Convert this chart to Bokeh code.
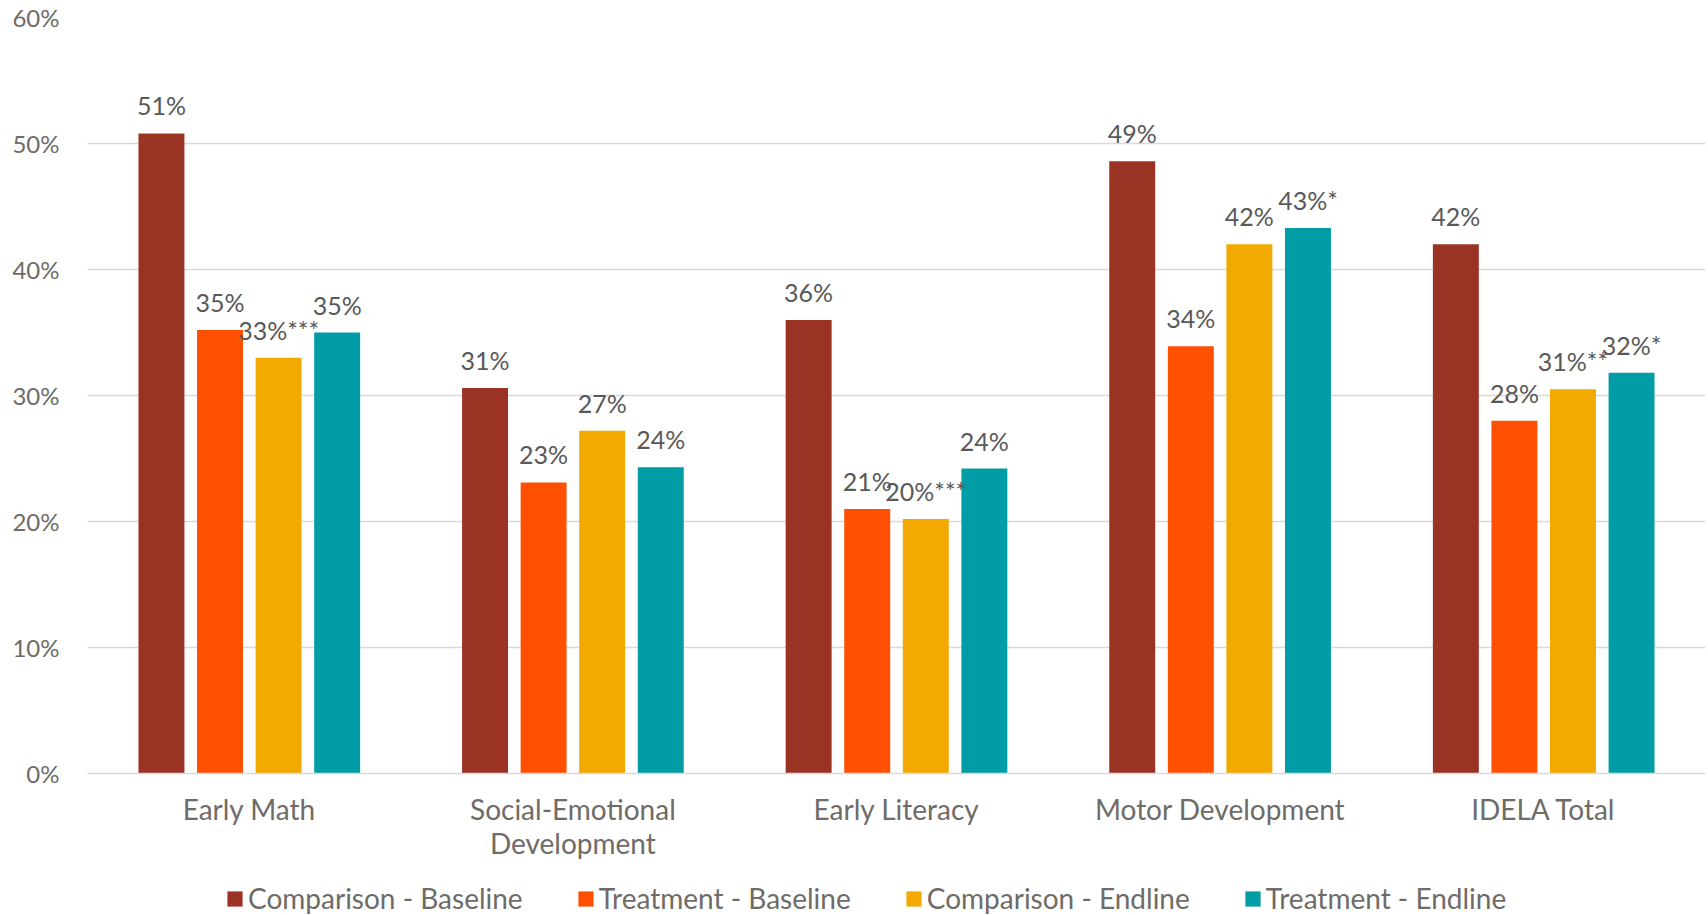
from bokeh.plotting import figure
from bokeh.models import (ColumnDataSource, Range1d, FixedTicker, Legend, LegendItem,
                          LabelSet, NumeralTickFormatter)
from bokeh.layouts import column
from bokeh.core.properties import value
from bokeh.transform import dodge
from bokeh.embed import file_html
from bokeh.resources import INLINE

categories = ["Early Math", "Social-Emotional\nDevelopment", "Early Literacy",
              "Motor Development", "IDELA Total"]
series_names = ["Comparison - Baseline", "Treatment - Baseline",
                "Comparison - Endline", "Treatment - Endline"]
comparison_baseline = [0.508, 0.306, 0.360, 0.486, 0.420]
treatment_baseline = [0.352, 0.231, 0.210, 0.339, 0.280]
comparison_endline = [0.330, 0.272, 0.202, 0.420, 0.305]
treatment_endline = [0.350, 0.243, 0.242, 0.433, 0.318]
labels_cb = ["51%", "31%", "36%", "49%", "42%"]
labels_tb = ["35%", "23%", "21%", "34%", "28%"]
labels_ce = ["33%***", "27%", "20%***", "42%", "31%**"]
labels_te = ["35%", "24%", "24%", "43%*", "32%*"]
y_ticks = [0, 0.1, 0.2, 0.3, 0.4, 0.5, 0.6]

colors = ["#9A3324", "#FF4F00", "#F2AA00", "#009DA6"]
FONT = "Lato"
GRAY = "#6E6B68"

W = 1708
H_MAIN, H_LEG = 870, 45
p = figure(width=W, height=H_MAIN, output_backend="svg", toolbar_location=None,
           x_range=Range1d(-0.5, 4.5), y_range=Range1d(0, 0.6),
           min_border_left=87, min_border_right=3, min_border_top=17,
           min_border_bottom=H_MAIN - 773)
p.outline_line_color = None
p.background_fill_color = "white"
p.border_fill_color = "white"

idx = list(range(len(categories)))
src = ColumnDataSource(dict(x=idx, cb=comparison_baseline, tb=treatment_baseline,
                            ce=comparison_endline, te=treatment_endline,
                            lcb=labels_cb, ltb=labels_tb, lce=labels_ce, lte=labels_te))

step = 0.181
bw = 0.142
offsets = [-1.5 * step, -0.5 * step, 0.5 * step, 1.5 * step]
fields = ["cb", "tb", "ce", "te"]
lfields = ["lcb", "ltb", "lce", "lte"]
for f, lf, off, c in zip(fields, lfields, offsets, colors):
    p.vbar(x=dodge("x", off, range=p.x_range), top=f, width=bw, source=src,
           fill_color=c, line_color=None)
    ls = LabelSet(x=dodge("x", off, range=p.x_range), y=f, text=lf, source=src,
                  text_align="center", text_baseline="middle", y_offset=28,
                  text_font=value(FONT), text_font_size=value("25px"),
                  text_color="#595959")
    p.add_layout(ls)

# axes
p.xaxis.ticker = FixedTicker(ticks=idx)
p.xaxis.major_label_overrides = {i: c for i, c in enumerate(categories)}
p.xaxis.axis_line_color = "#D9D9D9"
p.xaxis.axis_line_width = 1.5
p.xaxis.major_tick_line_color = None
p.xaxis.minor_tick_line_color = None
p.xaxis.major_label_text_font = FONT
p.xaxis.major_label_text_font_size = "28px"
p.xaxis.major_label_text_color = GRAY
p.xaxis.major_label_text_line_height = 1.0
p.xaxis.major_label_standoff = 12

p.yaxis.ticker = FixedTicker(ticks=y_ticks)
p.yaxis.formatter = NumeralTickFormatter(format="0%")
p.yaxis.axis_line_color = None
p.yaxis.major_tick_line_color = None
p.yaxis.minor_tick_line_color = None
p.yaxis.major_label_text_font = FONT
p.yaxis.major_label_text_font_size = "24px"
p.yaxis.major_label_text_color = GRAY
p.yaxis.major_label_standoff = 22

p.xgrid.grid_line_color = None
p.ygrid.grid_line_color = "#D9D9D9"
p.ygrid.grid_line_width = 1.5
p.ygrid.ticker = FixedTicker(ticks=y_ticks)

# legend strip (swatches come from off-screen proxy bars)
pl = figure(width=W, height=H_LEG, output_backend="svg", toolbar_location=None,
            x_range=Range1d(0, 1), y_range=Range1d(0, 1),
            x_axis_type=None, y_axis_type=None,
            min_border=0)
pl.outline_line_color = None
pl.grid.grid_line_color = None
leg_renderers = [pl.vbar(x=[-5], top=[-5], width=0.1, fill_color=c, line_color=None)
                 for c in colors]
legend = Legend(items=[LegendItem(label=n, renderers=[r])
                       for n, r in zip(series_names, leg_renderers)],
                orientation="horizontal", location=(138, 0),
                glyph_width=19, glyph_height=19, label_standoff=4, spacing=53,
                padding=0, margin=0, border_line_color=None, background_fill_alpha=0,
                label_text_font=FONT, label_text_font_size="28px",
                label_text_color=GRAY, label_height=30)
pl.add_layout(legend, "center")

layout = column(p, pl, spacing=0)
open("out.html", "w").write(file_html(layout, INLINE))
